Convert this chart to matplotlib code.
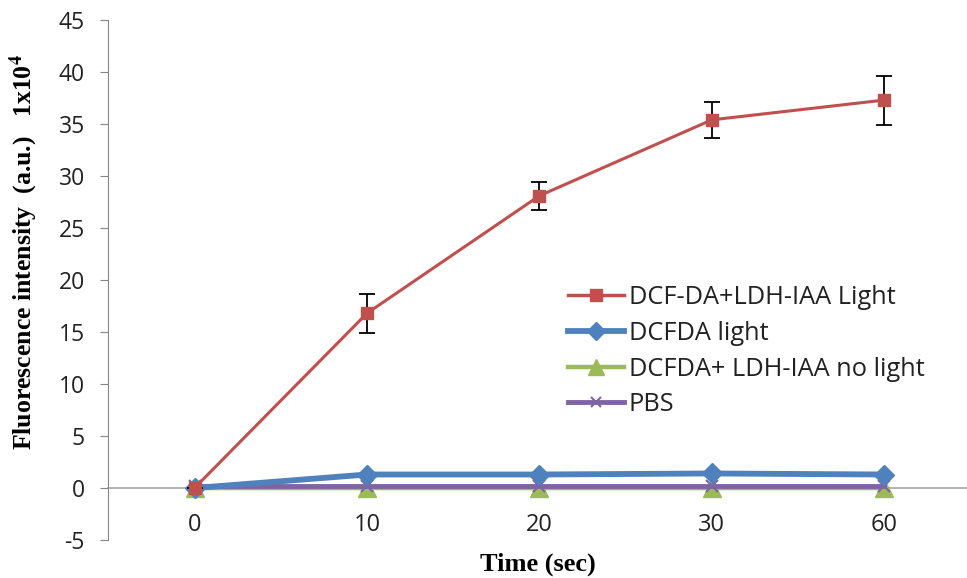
import matplotlib
matplotlib.use("Agg")
import matplotlib.pyplot as plt
from matplotlib.lines import Line2D
import numpy as np

plt.rcParams["mathtext.fontset"] = "stix"

categories = ["0", "10", "20", "30", "60"]
red_vals = [0, 16.8, 28.1, 35.4, 37.3]
red_err = [0, 1.9, 1.35, 1.75, 2.35]
blue_vals = [0, 1.3, 1.3, 1.4, 1.3]
green_vals = [0, 0, 0, 0, 0]
purple_vals = [0.15, 0.15, 0.15, 0.15, 0.15]
labels = ["DCF-DA+LDH-IAA Light", "DCFDA light", "DCFDA+ LDH-IAA no light", "PBS"]
yticks = [-5, 0, 5, 10, 15, 20, 25, 30, 35, 40, 45]

RED, BLUE, GREEN, PURPLE = "#C0504D", "#4F81BD", "#9BBB59", "#8064A2"

fig = plt.figure(figsize=(9.67, 5.78), dpi=100)
ax = fig.add_axes([0.112, 0.0657, 0.888, 0.8997])
x = np.arange(len(categories))

for s in ["top", "right"]:
    ax.spines[s].set_visible(False)
ax.spines["left"].set_color("#868686")
ax.spines["bottom"].set_position(("data", 0))
ax.spines["bottom"].set_color("#A6A6A6")
ax.spines["bottom"].set_linewidth(1.2)
ax.spines["bottom"].set_zorder(1)

ax.plot(x, green_vals, color=GREEN, lw=2.5, marker="^", ms=13, zorder=3)
ax.plot(x, purple_vals, color=PURPLE, lw=3.5, marker="x", ms=8, mew=1.5, zorder=4)
ax.plot(x, blue_vals, color=BLUE, lw=4.2, marker="D", ms=10, zorder=5)
ax.errorbar(x, red_vals, yerr=red_err, color=RED, lw=2.2, marker="s", ms=9,
            ecolor="black", elinewidth=1.3, capsize=6, capthick=1.3, zorder=6)

ax.set_xlim(-0.5, 4.48)
ax.set_ylim(-5, 45)
ax.set_yticks(yticks)
ax.set_yticklabels([str(v) for v in yticks], fontfamily="Open Sans", fontsize=16.5, color="#222222")
ax.set_xticks(x)
ax.set_xticklabels(categories, fontfamily="Open Sans", fontsize=17, color="#222222")
ax.tick_params(axis="x", length=0, pad=18)
ax.tick_params(axis="y", direction="out", length=6, color="#868686", pad=11)

ax.set_xlabel("Time (sec)", fontfamily="Liberation Serif", fontweight="bold", fontsize=19)
ax.xaxis.set_label_coords(0.5, -0.024)
ax.xaxis.label.set_va("top")
ax.set_ylabel("Fluorescence intensity  (a.u.)   1x10$^{\\mathbf{4}}$", fontfamily="Liberation Serif",
              fontweight="bold", fontsize=18.5)
ax.yaxis.set_label_coords(-0.08, 0.554)

hs = [Line2D([], [], color=RED, lw=2.5, marker="s", ms=8),
      Line2D([], [], color=BLUE, lw=4.2, marker="D", ms=9),
      Line2D([], [], color=GREEN, lw=3.2, marker="^", ms=12),
      Line2D([], [], color=PURPLE, lw=3.5, marker="x", ms=7, mew=1.5)]
leg = ax.legend(hs, labels, loc="upper left", bbox_to_anchor=(0.535, 0.49), frameon=False,
                prop={"family": "Open Sans", "size": 18.3}, handlelength=2.2, handletextpad=0.2,
                labelspacing=0.42, borderaxespad=0, borderpad=0)
for t in leg.get_texts():
    t.set_color("#222222")

fig.savefig("out.png", dpi=100)
